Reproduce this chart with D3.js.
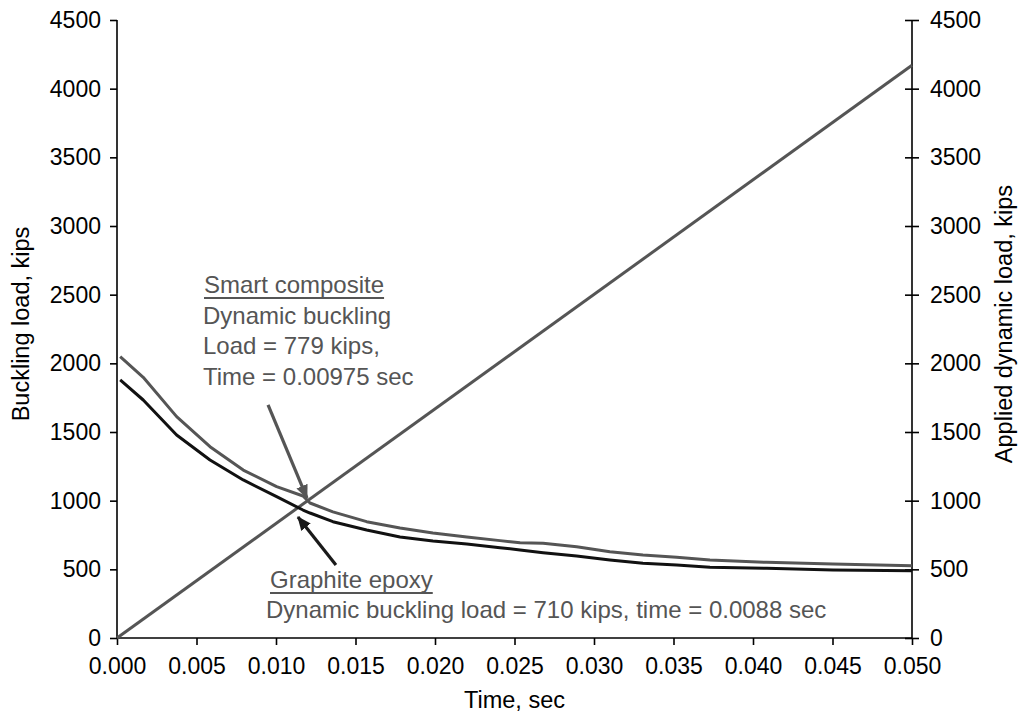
<!DOCTYPE html>
<html>
<head>
<meta charset="utf-8">
<script src="https://cdn.jsdelivr.net/npm/d3@7"></script>
<style>
  html, body { margin: 0; padding: 0; background: #fff; }
  svg { display: block; font-family: "Liberation Sans", Arial, sans-serif; }
</style>
</head>
<body>
<svg id="chart" width="1020" height="717"></svg>
<script>
// ---- data ----
const timeTicks = [0.000, 0.005, 0.010, 0.015, 0.020, 0.025, 0.030, 0.035, 0.040, 0.045, 0.050];
const loadTicks = [0, 500, 1000, 1500, 2000, 2500, 3000, 3500, 4000, 4500];

const smartTime = [0.0002, 0.00165, 0.00375, 0.00585, 0.00794, 0.01004, 0.0117, 0.01214, 0.01358, 0.0157, 0.0178, 0.01987, 0.022, 0.02409, 0.02535, 0.0268, 0.02891, 0.031, 0.03308, 0.0352, 0.03729, 0.04086, 0.04503, 0.05];
const smartLoad = [2048, 1898, 1612, 1393, 1223, 1102, 1034, 983, 918, 847, 801, 765, 735, 709, 694, 690, 665, 628, 604, 588, 568, 551, 539, 526];

const graphiteTime = [0.0002, 0.00165, 0.00375, 0.00585, 0.00794, 0.01004, 0.0117, 0.01214, 0.01358, 0.0157, 0.0178, 0.01987, 0.022, 0.02409, 0.02535, 0.0268, 0.02891, 0.031, 0.03308, 0.0352, 0.03729, 0.04086, 0.04503, 0.05];
const graphiteLoad = [1879, 1733, 1478, 1296, 1151, 1029, 932, 910, 847, 786, 735, 706, 684, 658, 641, 621, 597, 568, 544, 532, 515, 508, 495, 490];

const appliedTime = [0.0, 0.05];
const appliedLoad = [0, 4170];

const smartNote = ["Smart composite", "Dynamic buckling", "Load = 779 kips,", "Time = 0.00975 sec"];
const graphiteNote = ["Graphite epoxy", "Dynamic buckling load = 710 kips, time = 0.0088 sec"];

// arrows: [tailTime, tailLoad, tipTime, tipLoad]
const smartArrow = [0.0095, 1697, 0.01195, 1019];
const graphiteArrow = [0.01377, 532, 0.01138, 881];

// ---- layout ----
const svg = d3.select("#chart");
const plotL = 117, plotR = 912, plotT = 20, plotB = 638;
const grey = "#555555";

const x = d3.scaleLinear().domain([0, 0.05]).range([plotL, plotR]);
const yL = d3.scaleLinear().domain([0, 4500]).range([plotB, plotT]);
const yR = d3.scaleLinear().domain([0, 4500]).range([plotB, plotT]);

const tickFont = 23;

// left axis
const gL = svg.append("g").attr("transform", `translate(${plotL},0)`)
  .call(d3.axisLeft(yL).tickValues(loadTicks).tickFormat(d3.format("d")).tickSize(7).tickPadding(9));
// right axis (cross ticks)
const gR = svg.append("g").attr("transform", `translate(${plotR},0)`)
  .call(d3.axisRight(yR).tickValues(loadTicks).tickFormat(d3.format("d")).tickSize(7).tickPadding(11));
gR.selectAll(".tick line").attr("x1", -7);
// bottom axis
const gB = svg.append("g").attr("transform", `translate(0,${plotB})`)
  .call(d3.axisBottom(x).tickValues(timeTicks).tickFormat(d3.format(".3f")).tickSize(7).tickPadding(13));

[gL, gR, gB].forEach(g => {
  g.select(".domain").attr("stroke", "#000").attr("stroke-width", 1.6);
  g.selectAll(".tick line").attr("stroke", "#000").attr("stroke-width", 1.6);
  g.selectAll(".tick text").attr("fill", "#000").style("font-size", tickFont + "px")
    .style("font-family", '"Liberation Sans", Arial, sans-serif');
});
gL.select(".domain").attr("d", `M0,${plotB}V${plotT}`);
gR.select(".domain").attr("d", `M0,${plotB}V${plotT}`);
gB.select(".domain").attr("d", `M${plotL},0H${plotR}`);

// axis titles
svg.append("text").attr("transform", `translate(29,324) rotate(-90)`)
  .attr("text-anchor", "middle").style("font-size", "23.5px").attr("fill", "#000")
  .text("Buckling load, kips");
svg.append("text").attr("transform", `translate(1012,324) rotate(-90)`)
  .attr("text-anchor", "middle").style("font-size", "23.5px").attr("fill", "#000")
  .text("Applied dynamic load, kips");
svg.append("text").attr("x", (plotL + plotR) / 2).attr("y", 708)
  .attr("text-anchor", "middle").style("font-size", "23.5px").attr("fill", "#000")
  .text("Time, sec");

// lines
const lineL = d3.line().x(d => x(d[0])).y(d => yL(d[1]));
const lineR = d3.line().x(d => x(d[0])).y(d => yR(d[1]));

svg.append("path").datum(d3.zip(appliedTime, appliedLoad))
  .attr("d", lineR).attr("fill", "none").attr("stroke", grey).attr("stroke-width", 3);
svg.append("path").datum(d3.zip(smartTime, smartLoad))
  .attr("d", lineL).attr("fill", "none").attr("stroke", grey).attr("stroke-width", 3)
  .attr("stroke-linejoin", "round");
svg.append("path").datum(d3.zip(graphiteTime, graphiteLoad))
  .attr("d", lineL).attr("fill", "none").attr("stroke", "#111").attr("stroke-width", 3)
  .attr("stroke-linejoin", "round");

// arrow markers
const defs = svg.append("defs");
function marker(id, color) {
  defs.append("marker").attr("id", id).attr("viewBox", "0 0 14 12")
    .attr("refX", 13).attr("refY", 6).attr("markerWidth", 14).attr("markerHeight", 12)
    .attr("markerUnits", "userSpaceOnUse").attr("orient", "auto")
    .append("path").attr("d", "M0,0L14,6L0,12Z").attr("fill", color);
}
marker("arrS", grey);
marker("arrG", "#1a1a1a");

function arrow(a, color, id) {
  svg.append("line")
    .attr("x1", x(a[0])).attr("y1", yL(a[1]))
    .attr("x2", x(a[2])).attr("y2", yL(a[3]))
    .attr("stroke", color).attr("stroke-width", 3.2)
    .attr("marker-end", `url(#${id})`);
}
arrow(smartArrow, grey, "arrS");
arrow(graphiteArrow, "#1a1a1a", "arrG");

// annotation text
function note(lines, x0, y0, step, x1) {
  lines.forEach((t, i) => {
    const tx = svg.append("text").attr("x", i === 0 ? x0 : x1).attr("y", y0 + i * step)
      .style("font-size", "24px").attr("fill", grey).text(t);
    if (i === 0) {
      const w = tx.node().getComputedTextLength();
      svg.append("line").attr("x1", x0).attr("x2", x0 + w)
        .attr("y1", y0 + 5).attr("y2", y0 + 5)
        .attr("stroke", grey).attr("stroke-width", 2);
    }
  });
}
note(smartNote, 204, 293, 30.7, 203);
note(graphiteNote, 270, 588, 30, 266);
</script>
</body>
</html>
